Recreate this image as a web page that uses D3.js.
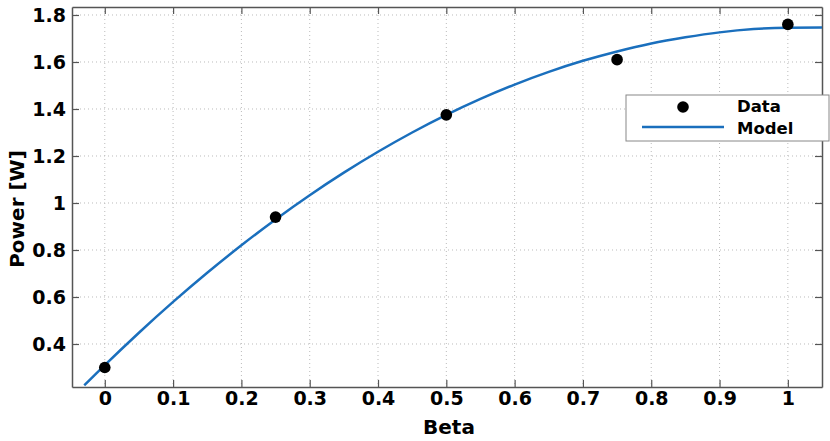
<!DOCTYPE html>
<html>
<head>
<meta charset="utf-8">
<script src="https://d3js.org/d3.v7.min.js"></script>
<style>
  body { margin: 0; background: #fff; }
  svg text { font-family: "DejaVu Sans", Verdana, sans-serif; font-weight: bold; fill: #000; }
</style>
</head>
<body>
<div id="chart"></div>
<script>
// measured points
var betaData = [0, 0.25, 0.5, 0.75, 1];
var powerData = [0.30, 0.94, 1.375, 1.61, 1.76];

// model curve
var betaModel = [-0.03, 0, 0.05, 0.1, 0.15, 0.2, 0.25, 0.3, 0.35, 0.4, 0.45, 0.5,
                 0.55, 0.6, 0.65, 0.7, 0.75, 0.8, 0.85, 0.9, 0.95, 1.0, 1.05];
var powerModel = [0.224, 0.31, 0.448, 0.579, 0.703, 0.82, 0.93, 1.033, 1.129, 1.218, 1.30, 1.375,
                  1.443, 1.504, 1.558, 1.605, 1.645, 1.679, 1.705, 1.726, 1.740, 1.746, 1.747];

var xTicks = [0, 0.1, 0.2, 0.3, 0.4, 0.5, 0.6, 0.7, 0.8, 0.9, 1];
var yTicks = [0.4, 0.6, 0.8, 1, 1.2, 1.4, 1.6, 1.8];

var W = 830, H = 441;
var mLeft = 72, mTop = 7, mRight = 822, mBottom = 387;

var svg = d3.select('#chart').append('svg').attr('width', W).attr('height', H);

var x = d3.scaleLinear().domain([-0.048, 1.05]).range([mLeft, mRight]);
var y = d3.scaleLinear().domain([0.217, 1.834]).range([mBottom, mTop]);

// grid
var grid = svg.append('g');
grid.selectAll('line.vx').data(xTicks).enter().append('line')
    .attr('x1', d => x(d)).attr('x2', d => x(d))
    .attr('y1', mTop).attr('y2', mBottom)
    .attr('stroke', '#bbb').attr('stroke-width', 1).attr('stroke-dasharray', '1,3');
grid.selectAll('line.hy').data(yTicks).enter().append('line')
    .attr('x1', mLeft).attr('x2', mRight)
    .attr('y1', d => y(d)).attr('y2', d => y(d))
    .attr('stroke', '#bbb').attr('stroke-width', 1).attr('stroke-dasharray', '1,3');

// axes (ticks pointing inward on all four sides)
var fmt = d => String(d);
var xAxis = d3.axisBottom(x).tickValues(xTicks).tickFormat(fmt).tickSizeInner(-7).tickSizeOuter(0).tickPadding(5);
var yAxis = d3.axisLeft(y).tickValues(yTicks).tickFormat(fmt).tickSizeInner(-7).tickSizeOuter(0).tickPadding(6);

var gx = svg.append('g').attr('transform', 'translate(0,' + mBottom + ')').call(xAxis);
var gy = svg.append('g').attr('transform', 'translate(' + mLeft + ',0)').call(yAxis);
var gxt = svg.append('g').attr('transform', 'translate(0,' + mTop + ')')
    .call(d3.axisTop(x).tickValues(xTicks).tickFormat('').tickSizeInner(-7).tickSizeOuter(0));
var gyr = svg.append('g').attr('transform', 'translate(' + mRight + ',0)')
    .call(d3.axisRight(y).tickValues(yTicks).tickFormat('').tickSizeInner(-7).tickSizeOuter(0));

[gx, gy, gxt, gyr].forEach(function (g) {
    g.select('.domain').attr('stroke', '#555').attr('stroke-width', 1.5);
    g.selectAll('.tick line').attr('stroke', '#555').attr('stroke-width', 1.2);
    g.selectAll('text').style('font-size', '19px').style('font-family', '"DejaVu Sans", sans-serif')
        .style('font-weight', 'bold').attr('fill', '#000');
});

// model line
svg.append('clipPath').attr('id', 'plotclip').append('rect')
    .attr('x', mLeft).attr('y', mTop).attr('width', mRight - mLeft).attr('height', mBottom - mTop);
var line = d3.line().x(d => x(d[0])).y(d => y(d[1])).curve(d3.curveMonotoneX);
svg.append('path')
    .datum(betaModel.map((b, i) => [b, powerModel[i]]))
    .attr('clip-path', 'url(#plotclip)')
    .attr('d', line)
    .attr('fill', 'none').attr('stroke', '#1a6fbd').attr('stroke-width', 2.5);

// data points
svg.selectAll('circle.pt').data(betaData).enter().append('circle')
    .attr('cx', d => x(d)).attr('cy', (d, i) => y(powerData[i]))
    .attr('r', 5.8).attr('fill', '#000');

// axis labels
svg.append('text').attr('x', 449).attr('y', 434).attr('text-anchor', 'middle')
    .style('font-size', '20px').text('Beta');
svg.append('text').attr('transform', 'translate(24,' + 209 + ')rotate(-90)')
    .attr('text-anchor', 'middle').style('font-size', '20px').text('Power [W]');

// legend
var lg = svg.append('g');
lg.append('rect').attr('x', 626).attr('y', 95).attr('width', 203).attr('height', 46)
    .attr('fill', '#fff').attr('stroke', '#888').attr('stroke-width', 1);
lg.append('circle').attr('cx', 683).attr('cy', 107).attr('r', 5.8).attr('fill', '#000');
lg.append('line').attr('x1', 642).attr('x2', 724).attr('y1', 127).attr('y2', 127)
    .attr('stroke', '#1a6fbd').attr('stroke-width', 2.5);
lg.append('text').attr('x', 737).attr('y', 112).style('font-size', '16.5px').text('Data');
lg.append('text').attr('x', 737).attr('y', 134).style('font-size', '16.5px').text('Model');
</script>
</body>
</html>
